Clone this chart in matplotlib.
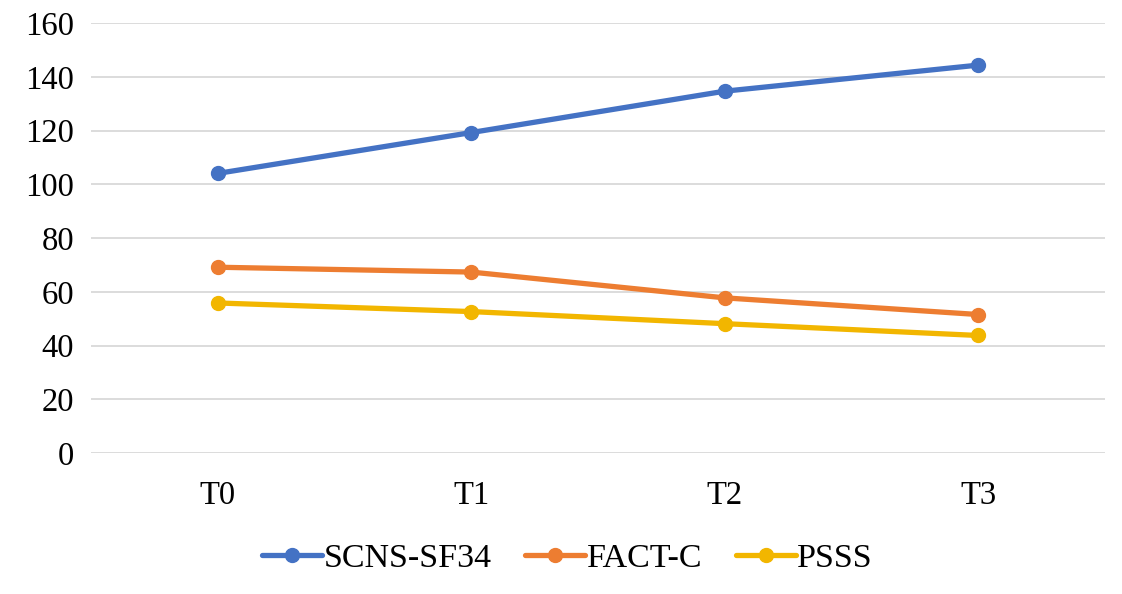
import matplotlib
matplotlib.use("Agg")
import matplotlib.pyplot as plt

categories = ["T0", "T1", "T2", "T3"]
scns_sf34 = [104.1, 119.3, 134.7, 144.4]
fact_c = [69.2, 67.4, 57.8, 51.6]
psss = [55.9, 52.7, 48.2, 43.8]
y_ticks = [0, 20, 40, 60, 80, 100, 120, 140, 160]

plt.rcParams['font.family'] = ['Liberation Serif', 'DejaVu Serif']

fig = plt.figure(figsize=(11.22, 5.94), dpi=100)
ax = fig.add_axes([0.081, 0.237, 0.904, 0.724])

x = range(len(categories))
series = [
    ("SCNS-SF34", scns_sf34, "#4472C4"),
    ("FACT-C", fact_c, "#ED7D31"),
    ("PSSS", psss, "#F2B600"),
]
for name, vals, col in series:
    ax.plot(x, vals, color=col, lw=3.8, marker="o", markersize=10,
            solid_capstyle="round", label=name)

ax.set_xlim(-0.5, len(categories) - 0.5)
ax.set_ylim(0, 160)
ax.set_yticks(y_ticks)
ax.set_xticks(list(x))
ax.set_xticklabels(categories)
ax.tick_params(axis="both", length=0, labelsize=23.5, colors="black")
ax.tick_params(axis="y", pad=12)
ax.tick_params(axis="x", pad=20)
ax.grid(axis="y", color="#D9D9D9", lw=1.3)
ax.set_axisbelow(True)
for s in ax.spines.values():
    s.set_visible(False)

ax.legend(loc="center", bbox_to_anchor=(0.47, -0.245), ncol=3, frameon=False,
          fontsize=24.5, handlelength=1.75, handletextpad=0.05, columnspacing=1.0)

fig.savefig("out.png", dpi=100)
